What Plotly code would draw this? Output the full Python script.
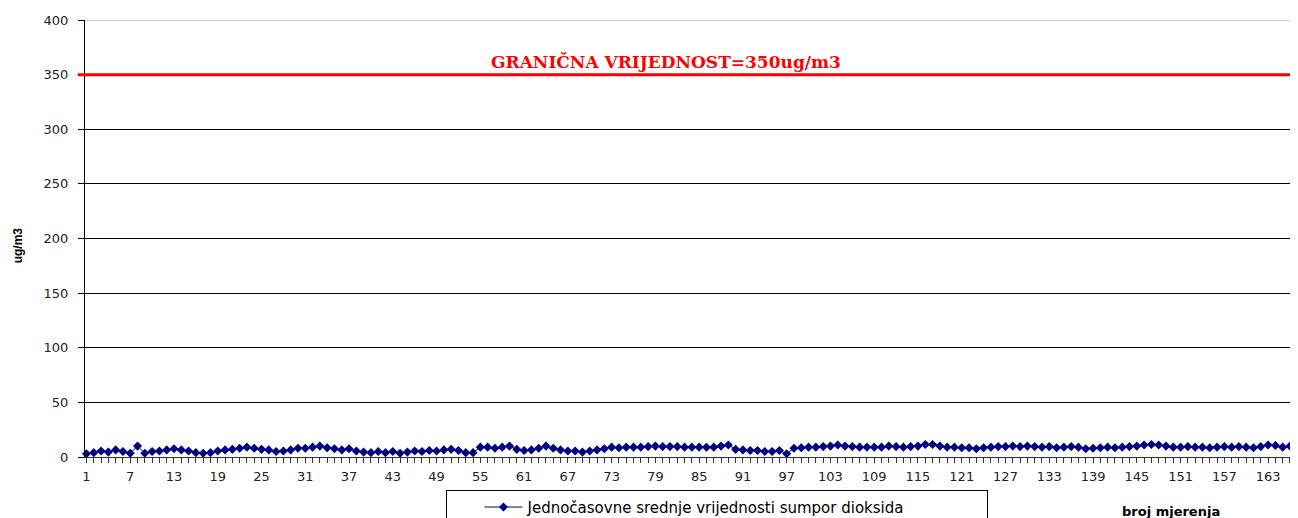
import plotly.graph_objects as go

measurement_no = list(range(1, 167))
so2_values = [
    3, 4, 5.5, 4.5, 6.5, 5, 3.5, 10, 3.5, 5,
    5.5, 6.5, 7.5, 6.5, 5.5, 4, 3.5, 4, 5.5, 6.5,
    7, 8, 9, 8, 7, 6.5, 5, 5.5, 6.5, 8,
    8, 9, 10, 8.5, 7.5, 6.5, 7.5, 5.5, 4.5, 4,
    5, 4, 5, 3.5, 4.5, 5.5, 5, 6, 5.5, 6.5,
    7, 6, 4, 4, 9, 9, 8, 9, 10, 7,
    6, 6.5, 8, 10, 8, 6.5, 5.5, 5.5, 4.5, 5.5,
    6.5, 7.5, 9, 8.5, 9, 9, 9, 9.5, 10, 9.5,
    9.5, 9.5, 9, 9, 9, 9, 9, 10, 11, 7,
    6.5, 6, 6, 5, 5, 6, 3, 8, 8.5, 9,
    9, 9.5, 10, 11, 10, 9.5, 9, 9, 9, 9,
    10, 9.5, 9, 9.5, 10, 11.5, 11.5, 10, 9, 9,
    8.5, 8.5, 7.5, 8.5, 9, 9.5, 9.5, 10, 9.5, 10,
    9.5, 9, 9.5, 8.5, 9, 9.5, 9, 7.5, 8, 8.5,
    9, 8.5, 9, 9.5, 10, 11, 11.5, 11, 10, 9,
    9, 9.5, 9, 9, 8.5, 9, 9.5, 9, 9.5, 9,
    8.5, 9.5, 11, 10.5, 9, 10,
]
limit_value = 350
series_name = "Jednočasovne srednje vrijednosti sumpor dioksida"
limit_label = "GRANIČNA VRIJEDNOST=350ug/m3"
y_title = "ug/m3"
x_title = "broj mjerenja"

fig = go.Figure()
fig.add_trace(go.Scatter(
    x=measurement_no, y=so2_values, mode="lines+markers", name=series_name,
    line=dict(color="#000080", width=1),
    marker=dict(symbol="diamond", size=7, color="#000080"),
    cliponaxis=False,
))

fig.add_shape(type="line", xref="paper", x0=-0.006, x1=1, yref="y", y0=limit_value, y1=limit_value,
              line=dict(color="#ff0000", width=3))
fig.add_shape(type="line", xref="paper", x0=0, x1=1, yref="y", y0=400, y1=400,
              line=dict(color="#999999", width=1))

fig.add_annotation(text=limit_label, xref="paper", x=0.479, xanchor="center", yref="y", y=limit_value,
                   yanchor="bottom", yshift=1, showarrow=False,
                   font=dict(family="DejaVu Serif", size=17, color="#ff0000", weight="bold"))
fig.add_annotation(text=y_title, xref="paper", x=-0.055, xanchor="center", yref="paper", y=0.485,
                   yanchor="middle", textangle=-90, showarrow=False,
                   font=dict(family="Liberation Sans", size=12, color="#000000", weight="bold"))
fig.add_annotation(text=x_title, xref="paper", x=0.895, xanchor="center", yref="paper", y=-0.124,
                   yanchor="middle", showarrow=False,
                   font=dict(family="DejaVu Sans", size=13, color="#000000", weight="bold"))

fig.update_layout(
    width=1290, height=510,
    margin=dict(l=77, r=0, t=12, b=61, autoexpand=False),
    paper_bgcolor="white", plot_bgcolor="white",
    showlegend=True,
    legend=dict(orientation="h", x=0.298, y=-0.075, xanchor="left", yanchor="top",
                bordercolor="#000000", borderwidth=1, entrywidth=455,
                indentation=32, itemwidth=38,
                font=dict(family="DejaVu Sans", size=15, color="#000000"),
                bgcolor="white"),
)
fig.update_xaxes(
    range=[0.8, 167.1], tickmode="linear", tick0=1, dtick=6,
    showgrid=False, zeroline=False,
    showline=True, linecolor="#333333", linewidth=1,
    ticks="outside", ticklen=5, tickcolor="#333333", ticklabelstandoff=2,
    minor=dict(tickmode="linear", tick0=1, dtick=1, ticks="outside", ticklen=5, tickcolor="#333333"),
    tickfont=dict(family="DejaVu Sans", size=13, color="#222222"),
)
fig.update_yaxes(
    range=[0, 400], tickmode="linear", tick0=0, dtick=50,
    showgrid=True, gridcolor="#000000", gridwidth=1, zeroline=False,
    showline=True, linecolor="#000000", linewidth=1,
    ticks="outside", ticklen=6, tickcolor="#000000", ticklabelstandoff=7,
    tickfont=dict(family="DejaVu Sans", size=13, color="#222222"),
)

fig.write_html("out.html")
